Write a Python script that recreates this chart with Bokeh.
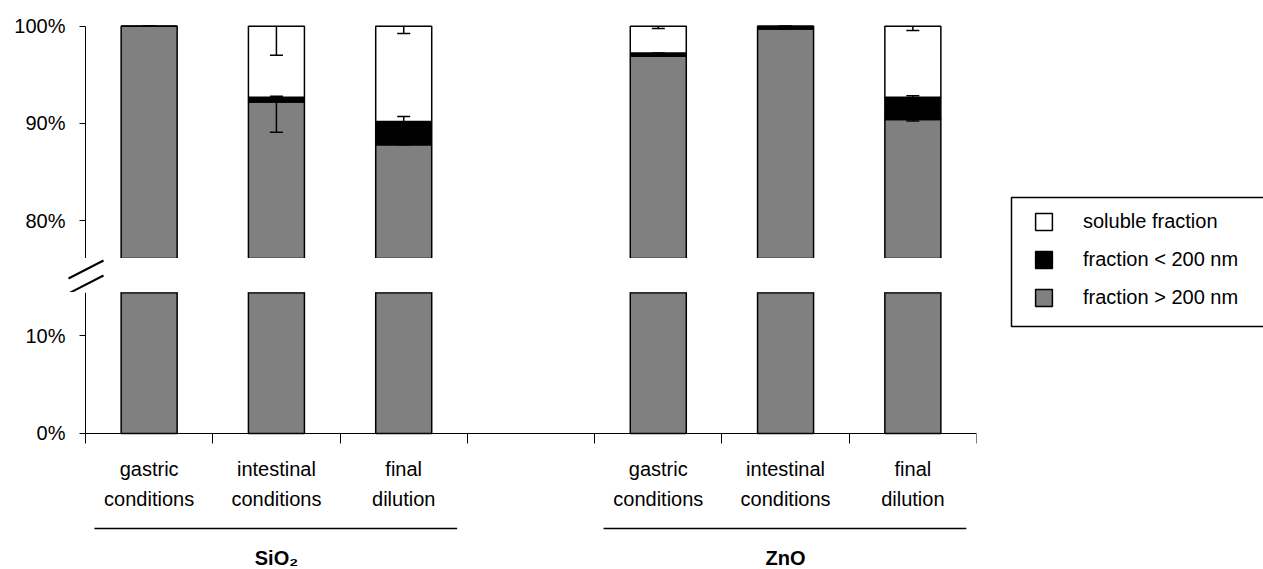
from bokeh.plotting import figure
from bokeh.layouts import column, row
from bokeh.models import (ColumnDataSource, Range1d, FixedTicker, PrintfTickFormatter,
                          LinearAxis, Legend, LegendItem, BoxAnnotation)
from bokeh.core.properties import value
from bokeh.embed import file_html
from bokeh.resources import INLINE

# ---- data -----------------------------------------------------------------
materials = ["SiO₂", "ZnO"]
conditions = ["gastric\nconditions", "intestinal\nconditions", "final\ndilution"]
series_names = ["fraction > 200 nm", "fraction < 200 nm", "soluble fraction"]

# percent of total mass, order: SiO2 (gastric, intestinal, final), ZnO (gastric, intestinal, final)
above_200 = [100.0, 92.2, 87.8, 96.9, 99.7, 90.4]
below_200 = [0.0, 0.5, 2.4, 0.35, 0.3, 2.3]
soluble = [0.0, 7.3, 9.8, 2.75, 0.0, 7.3]

# one-sided error bars (above: minus, below: plus, soluble: minus)
above_200_err = [0.0, 3.1, 0.0, 0.0, 0.0, 0.15]
below_200_err = [0.0, 0.1, 0.5, 0.0, 0.0, 0.15]
soluble_err = [0.0, 3.0, 0.75, 0.25, 0.0, 0.45]

# ---- styling / layout -----------------------------------------------------
FONT = "Liberation Sans"
FS = "20px"
GRAY, BLACK, WHITE = "#808080", "#000000", "#ffffff"
W = 1000
BORDER_R = 24                    # right margin of every frame (px)
AXIS_X = 85                      # pixel position of the value axis
BAR_W = 0.44
PX_PER_PCT_UP, PX_PER_PCT_LO = 9.72, 9.77
TOP_H, GAP_H, BOT_H, STRIP_H = 258, 34, 154, 123
BREAK_UP = 76.1                  # lowest value shown in the upper panel
BREAK_LO = 14.43                 # highest value shown in the lower panel
BASE_PAD = 13                    # px below the zero line inside the lower frame

n_cond = len(conditions)
n_slots = len(materials) * (n_cond + 1) - 1
xs = [m * (n_cond + 1) + c + 0.5 for m in range(len(materials)) for c in range(n_cond)]
cond_labels = [c for _ in materials for c in conditions]

bars = ColumnDataSource(dict(x=xs, above=above_200, below=below_200, soluble=soluble))

lvl1 = above_200
lvl2 = [a + b for a, b in zip(above_200, below_200)]
lvl3 = [a + s for a, s in zip(lvl2, soluble)]
errs = ColumnDataSource(dict(
    x=xs * 3,
    y0=lvl1 + lvl2 + lvl3,
    y1=[v - e for v, e in zip(lvl1, above_200_err)]
       + [v + e for v, e in zip(lvl2, below_200_err)]
       + [v - e for v, e in zip(lvl3, soluble_err)],
))

# frames span the whole left column; slot 0 starts at the value axis
px_per_slot = (W - BORDER_R - AXIS_X) / n_slots
x_range = Range1d(-AXIS_X / px_per_slot, n_slots)

upper_range = Range1d(BREAK_UP, BREAK_UP + TOP_H / PX_PER_PCT_UP)
lower_range = Range1d(-BASE_PAD / PX_PER_PCT_LO, BREAK_LO)


def bare(height, y_range, **kw):
    p = figure(width=W, height=height, x_range=x_range, y_range=y_range,
               output_backend="svg", toolbar_location=None, title=None,
               x_axis_location=None, y_axis_location=None,
               min_border_left=0, min_border_right=BORDER_R,
               min_border_top=0, min_border_bottom=0, **kw)
    p.outline_line_color = None
    p.grid.visible = False
    return p


def panel(height, y_range, ticks, bounds):
    p = figure(width=W, height=height, x_range=x_range, y_range=y_range,
               output_backend="svg", toolbar_location=None, title=None,
               x_axis_location=None, min_border_left=0, min_border_right=BORDER_R,
               min_border_top=0, min_border_bottom=0)
    p.outline_line_color = None
    p.grid.visible = False
    ax = p.yaxis[0]
    ax.fixed_location = 0
    ax.ticker = FixedTicker(ticks=ticks)
    ax.formatter = PrintfTickFormatter(format="%d%%")
    ax.bounds = bounds
    ax.major_tick_in = 0
    ax.major_tick_out = 6
    ax.minor_tick_line_color = None
    ax.axis_line_color = "black"
    ax.major_tick_line_color = "black"
    ax.major_label_standoff = 14
    ax.major_label_text_font = FONT
    ax.major_label_text_font_size = FS
    ax.major_label_text_color = "black"

    p.vbar_stack(["above", "below", "soluble"], x="x", width=BAR_W, source=bars,
                 fill_color=[GRAY, BLACK, WHITE], line_color="black", line_width=1.5)
    p.segment(x0="x", y0="y0", x1="x", y1="y1", source=errs,
              line_color="black", line_width=1.5)
    p.scatter(x="x", y="y1", marker="dash", size=13, source=errs,
              line_color="black", line_width=1.5)
    return p


top = panel(TOP_H, upper_range, [80, 90, 100], (BREAK_UP, 100))
bottom = panel(BOT_H, lower_range, [0, 10], (0, BREAK_LO))

# category boundary ticks along the zero line (minor ticks only, so no tick labels)
xaxis = LinearAxis(ticker=FixedTicker(ticks=[], minor_ticks=list(range(n_slots + 1))),
                   fixed_location=0, bounds=(0, n_slots), minor_tick_out=10, minor_tick_in=0,
                   minor_tick_line_color="black", major_tick_line_color=None,
                   axis_line_color="black", major_label_standoff=0)
bottom.add_layout(xaxis, "below")

# strip between the two panels carrying the axis break marks
gap = bare(GAP_H, Range1d(GAP_H, 0))
mark_dx = (-17 / px_per_slot, 18 / px_per_slot)
gap.segment(x0=[mark_dx[0]] * 2, y0=[20, 35], x1=[mark_dx[1]] * 2, y1=[2, 17],
            line_color="black", line_width=2)

# condition labels, group underlines and material names
strip = bare(STRIP_H, Range1d(STRIP_H, 0))
strip.text(x=xs, y=11, text=cond_labels, text_align="center", text_baseline="top",
           text_font=value(FONT), text_font_size=FS, text_line_height=1.4,
           text_color="black")
g0 = [m * (n_cond + 1) for m in range(len(materials))]
strip.segment(x0=[g + 0.07 for g in g0], x1=[g + n_cond - 0.08 for g in g0],
              y0=82, y1=82, line_color="black", line_width=1.5)
strip.text(x=[g + n_cond / 2 for g in g0], y=111, text=materials, text_align="center",
           text_baseline="alphabetic", text_font=value(FONT), text_font_size=FS,
           text_font_style="bold", text_color="black")

# legend: swatches come from hidden copies of the bar series
leg = figure(width=263, height=569, x_range=Range1d(0, 263), y_range=Range1d(569, 0),
             output_backend="svg", toolbar_location=None, title=None,
             x_axis_location=None, y_axis_location=None, min_border=0)
leg.outline_line_color = None
leg.grid.visible = False
swatches = {}
for name, field, col in zip(series_names, ["above", "below", "soluble"], [GRAY, BLACK, WHITE]):
    swatches[name] = leg.vbar(x="x", top=field, width=BAR_W, source=bars, fill_color=col,
                              line_color="black", line_width=1.5, visible=False)
legend = Legend(items=[LegendItem(label=n, renderers=[swatches[n]]) for n in reversed(series_names)],
                location=(33, 260.5), border_line_color=None, background_fill_alpha=0,
                padding=0, spacing=15, glyph_width=21, glyph_height=21, label_height=21,
                label_standoff=29, label_text_font=FONT, label_text_font_size=FS,
                label_text_color="black", inactive_fill_alpha=0)
leg.add_layout(legend)
leg.add_layout(BoxAnnotation(left=11, right=400, top=197, bottom=326, fill_color=None,
                             line_color="black", line_alpha=1, line_width=1.5))

layout = row(column(top, gap, bottom, strip), leg)
open("out.html", "w").write(file_html(layout, INLINE))
